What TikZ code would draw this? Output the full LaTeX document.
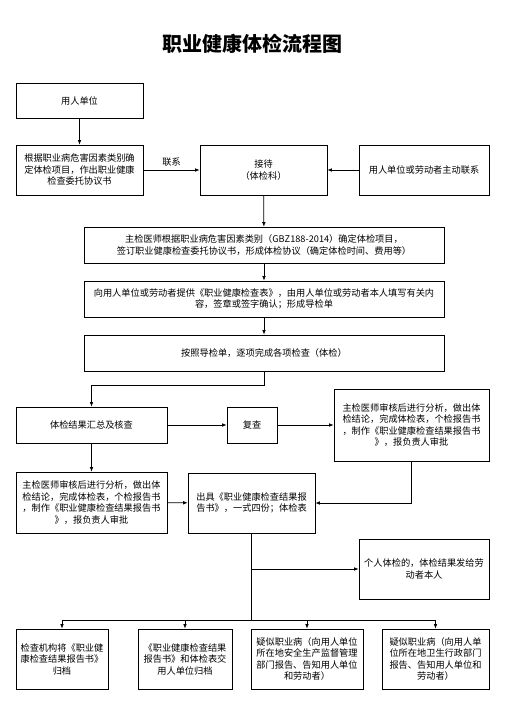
\documentclass[tikz,border=0pt]{standalone}
\usepackage{fontspec}
\setmainfont{Noto Sans CJK SC}
\usepackage{tikz}
\usetikzlibrary{arrows.meta, positioning}
\tikzset{
    block/.style={rectangle, draw=black, fill=white, align=center, line width=0.7pt, font=\fontsize{9.2}{11.5}\selectfont, inner sep=3pt},
    arrow/.style={line width=0.7pt, -{Latex[length=4.5pt, width=3.6pt]}},
    link/.style={line width=0.7pt}
}

\begin{document}
\begin{tikzpicture}[x=1pt, y=-1pt]
    \useasboundingbox (0,0) rectangle (504,713);
    \node (title) at (252,44) {\fontsize{20}{24}\selectfont\bfseries 职业健康体检流程图};

    \node (unit) [block, minimum width=127pt, minimum height=35pt] at (79.5,100.5) {用人单位};
    \node (plan) [block, minimum width=127pt, minimum height=50pt] at (79.5,170) {根据职业病危害因素类别确\\定体检项目，作出职业健康\\检查委托协议书};
    \node (recv) [block, minimum width=127pt, minimum height=50pt] at (263.5,170) {接待\\（体检科）};
    \node (self) [block, minimum width=130pt, minimum height=50pt] at (424,170) {用人单位或劳动者主动联系};
    \node (agree) [block, minimum width=360pt, minimum height=36pt] at (264,245) {主检医师根据职业病危害因素类别（GBZ188-2014）确定体检项目，\\签订职业健康检查委托协议书，形成体检协议（确定体检时间、费用等）};
    \node (form) [block, minimum width=360pt, minimum height=36pt] at (264,299) {向用人单位或劳动者提供《职业健康检查表》，由用人单位或劳动者本人填写有关内\\容，签章或签字确认；形成导检单};
    \node (exam) [block, minimum width=360pt, minimum height=36pt] at (264,353) {按照导检单，逐项完成各项检查（体检）};
    \node (summ) [block, minimum width=151pt, minimum height=36pt] at (91.5,425) {体检结果汇总及核查};
    \node (recheck) [block, minimum width=50pt, minimum height=36pt] at (252,425) {复查};
    \node (reviewB) [block, minimum width=155pt, minimum height=72pt] at (411.5,425) {主检医师审核后进行分析，做出体\\检结论，完成体检表，个检报告书\\，制作《职业健康检查结果报告书\\》，报负责人审批};
    \node (reviewA) [block, minimum width=151pt, minimum height=61pt] at (91.5,502.5) {主检医师审核后进行分析，做出体\\检结论，完成体检表，个检报告书\\，制作《职业健康检查结果报告书\\》，报负责人审批};
    \node (issue) [block, align=left, minimum width=127pt, minimum height=60pt] at (251.5,503) {出具《职业健康检查结果报\\告书》，一式四份；体检表};
    \node (person) [block, minimum width=130pt, minimum height=60pt] at (424,569) {个人体检的，体检结果发给劳\\动者本人};
    \node (b1) [block, minimum width=92pt, minimum height=60pt] at (62,659) {检查机构将《职业健\\康检查结果报告书》\\归档};
    \node (b2) [block, minimum width=94pt, minimum height=60pt] at (185,659) {《职业健康检查结果\\报告书》和体检表交\\用人单位归档};
    \node (b3) [block, minimum width=112pt, minimum height=60pt] at (307,659) {疑似职业病（向用人单位\\所在地安全生产监督管理\\部门报告、告知用人单位\\和劳动者）};
    \node (b4) [block, minimum width=107pt, minimum height=60pt] at (435.5,659) {疑似职业病（向用人单\\位所在地卫生行政部门\\报告、告知用人单位和\\劳动者）};

    \draw [arrow] (unit) -- (plan);
    \draw [arrow] (plan.east) -- node[above, font=\fontsize{9.2}{11}\selectfont] {联系} (recv.west);
    \draw [arrow] (self) -- (recv);
    \draw [arrow] (recv) -- (agree);
    \draw [arrow] (agree) -- (form);
    \draw [arrow] (form) -- (exam);
    \draw [arrow] (exam.south) -- ++(0,14) -| (summ.north);
    \draw [arrow] (summ) -- (recheck);
    \draw [arrow] (recheck) -- (reviewB);
    \draw [arrow] (summ) -- (reviewA);
    \draw [arrow] (reviewA) -- (issue);
    \draw [arrow] (reviewB.south) |- (issue.east);
    \draw [arrow] (issue.south) |- (person.west);
    \draw [link] (issue.south) -- ++(0,87) coordinate (split);
    \foreach \b in {b1,b2,b3,b4}
        \draw [arrow] (split) -| (\b.north);
\end{tikzpicture}
\end{document}
